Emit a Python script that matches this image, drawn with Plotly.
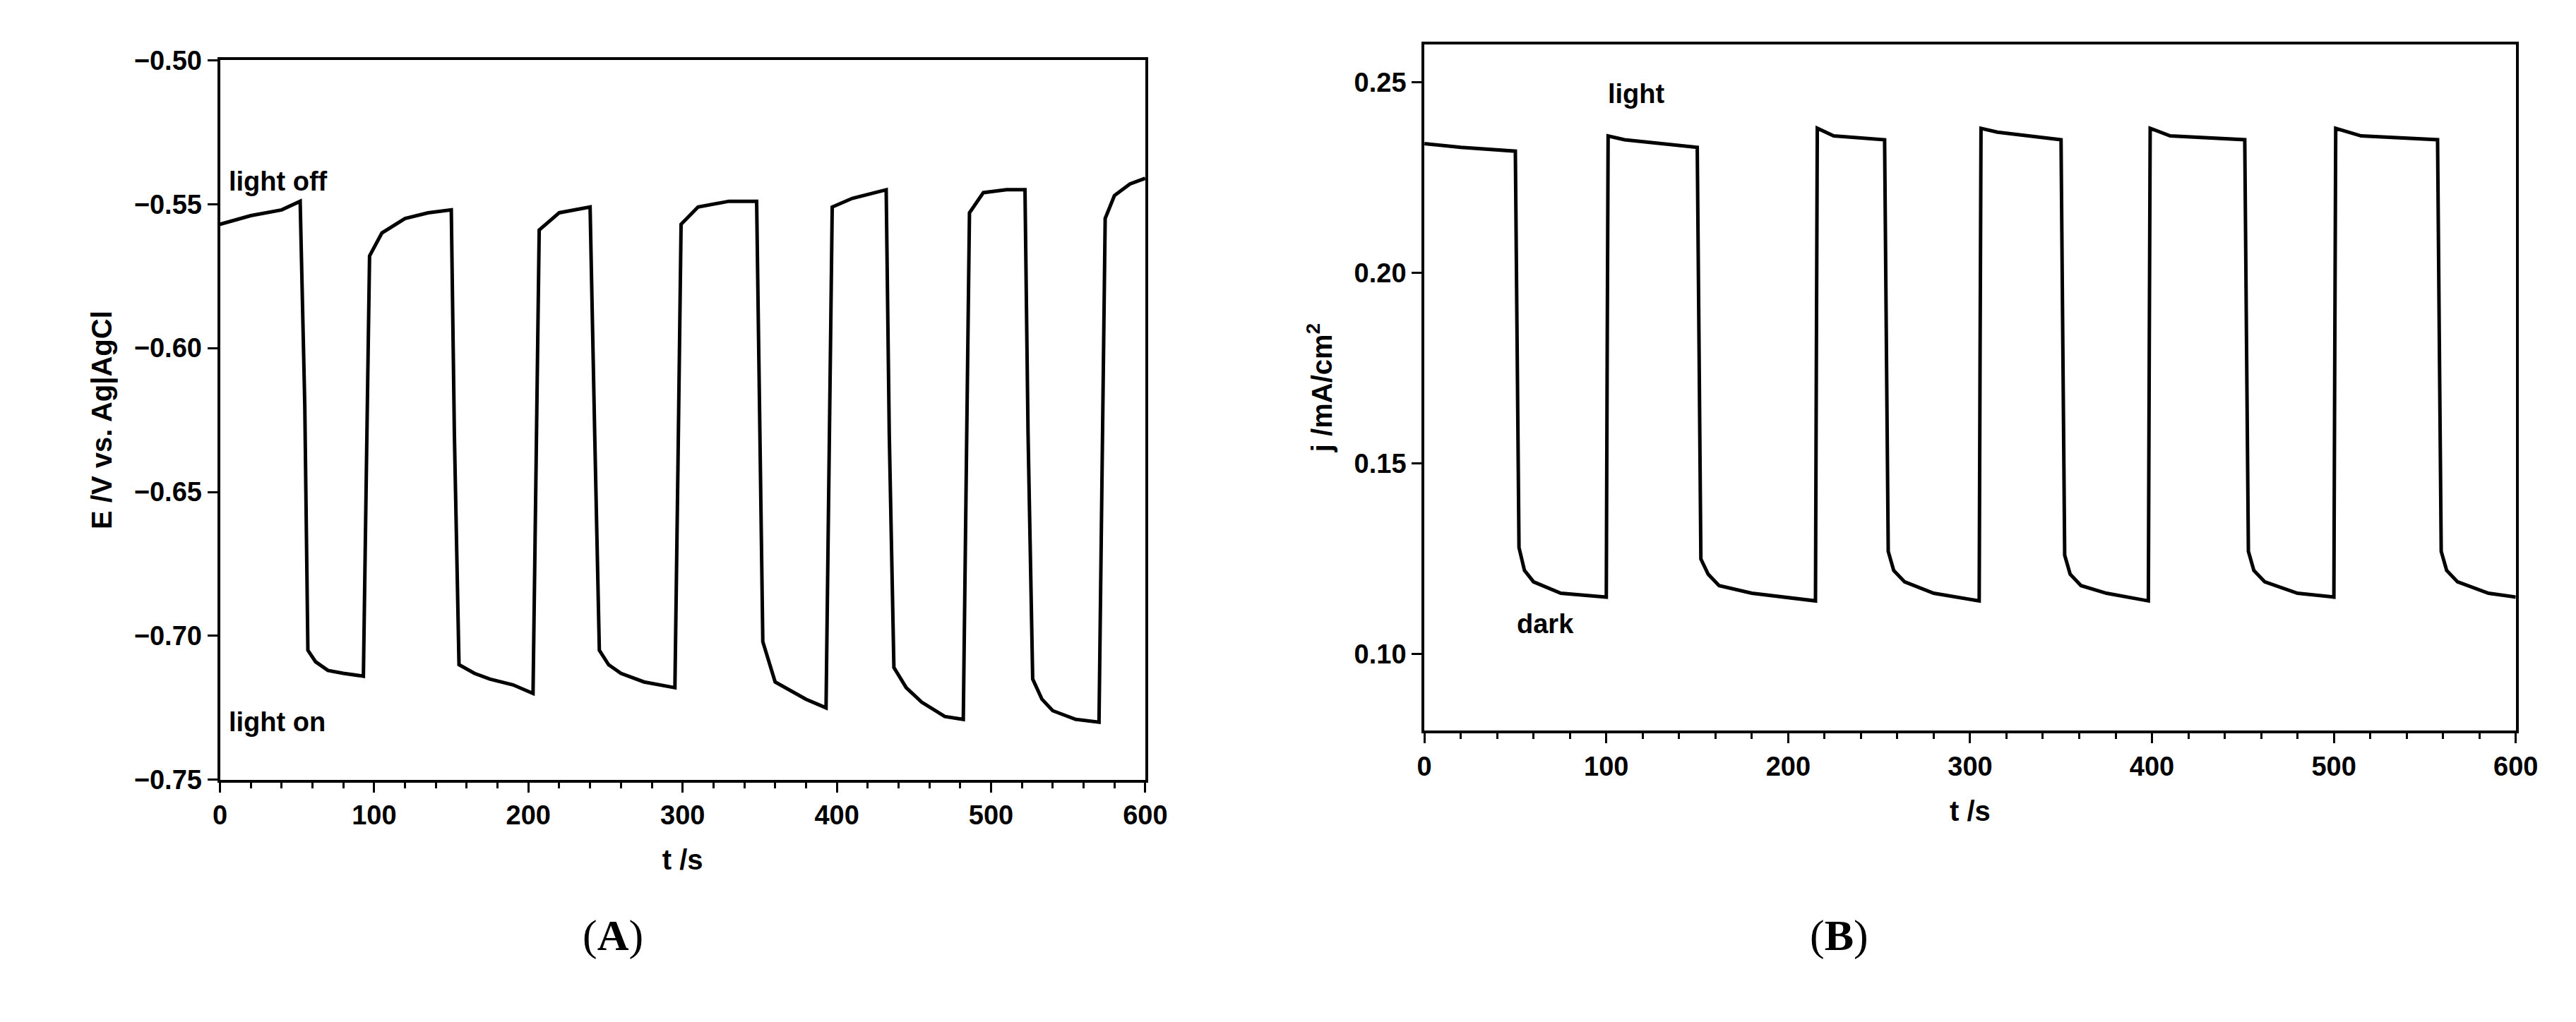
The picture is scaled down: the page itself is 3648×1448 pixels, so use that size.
import plotly.graph_objects as go

tA = [0, 20, 40, 52, 55, 57, 62, 70, 80, 93, 95, 97, 105, 120, 135, 150, 152, 155, 165, 175, 190, 203, 205, 207, 220, 240, 243, 246, 252, 260, 275, 295, 297, 299, 310, 330, 348, 350, 352, 360, 370, 380, 393, 395, 397, 410, 432, 434, 437, 445, 455, 470, 482, 484, 486, 495, 510, 522, 524, 527, 533, 540, 555, 570, 572, 574, 580, 590, 600]
EA = [-0.557, -0.554, -0.552, -0.549, -0.62, -0.705, -0.709, -0.712, -0.713, -0.714, -0.64, -0.568, -0.560, -0.555, -0.553, -0.552, -0.63, -0.710, -0.713, -0.715, -0.717, -0.720, -0.64, -0.559, -0.553, -0.551, -0.63, -0.705, -0.710, -0.713, -0.716, -0.718, -0.64, -0.557, -0.551, -0.549, -0.549, -0.63, -0.702, -0.716, -0.719, -0.722, -0.725, -0.64, -0.551, -0.548, -0.545, -0.63, -0.711, -0.718, -0.723, -0.728, -0.729, -0.64, -0.553, -0.546, -0.545, -0.545, -0.63, -0.715, -0.722, -0.726, -0.729, -0.730, -0.64, -0.555, -0.547, -0.543, -0.541]

tB = [0, 20, 50, 51, 52, 55, 60, 75, 100, 100.5, 101, 110, 130, 150, 151, 152, 156, 162, 180, 215, 215.5, 216, 225, 253, 254, 255, 258, 264, 280, 305, 305.5, 306, 315, 350, 351, 352, 355, 361, 375, 398, 398.5, 399, 410, 451, 452, 453, 456, 462, 480, 500, 500.5, 501, 515, 557, 558, 559, 562, 568, 585, 600]
jB = [0.234, 0.233, 0.232, 0.18, 0.128, 0.122, 0.119, 0.116, 0.115, 0.18, 0.236, 0.235, 0.234, 0.233, 0.18, 0.125, 0.121, 0.118, 0.116, 0.114, 0.18, 0.238, 0.236, 0.235, 0.18, 0.127, 0.122, 0.119, 0.116, 0.114, 0.18, 0.238, 0.237, 0.235, 0.18, 0.126, 0.121, 0.118, 0.116, 0.114, 0.18, 0.238, 0.236, 0.235, 0.18, 0.127, 0.122, 0.119, 0.116, 0.115, 0.18, 0.238, 0.236, 0.235, 0.18, 0.127, 0.122, 0.119, 0.116, 0.115]

W, H = 3648, 1448
fig = go.Figure()
fig.add_trace(go.Scatter(x=tA, y=EA, mode="lines", line=dict(color="black", width=5), xaxis="x", yaxis="y", showlegend=False))
fig.add_trace(go.Scatter(x=tB, y=jB, mode="lines", line=dict(color="black", width=5), xaxis="x2", yaxis="y2", showlegend=False))

tickfont = dict(family="Liberation Sans, Arial", size=38, color="black")
common = dict(showline=True, linecolor="black", linewidth=4, mirror=True, ticks="outside",
              ticklen=14, tickwidth=3, tickcolor="black", showgrid=False, zeroline=False,
              tickprefix="<b>", ticksuffix="</b>",
              tickfont=tickfont, minor=dict(ticks="outside", ticklen=8, tickwidth=3, tickcolor="black"))
fig.update_layout(
    width=W, height=H, paper_bgcolor="white", plot_bgcolor="white",
    margin=dict(l=0, r=0, t=0, b=0),
    font=dict(family="Liberation Sans, Arial", color="black"),
    xaxis=dict(domain=[296/W, 1622/W], anchor="y", range=[0, 600], dtick=100,
               title=dict(text="<b>t /s</b>", font=dict(size=40), standoff=30), **common),
    yaxis=dict(domain=[1-1108/H, 1-58/H], anchor="x", range=[-0.75, -0.50], dtick=0.05, tickformat=".2f",
               title=dict(text="<b>E /V vs. Ag|AgCl</b>", font=dict(size=40), standoff=20), **common),
    xaxis2=dict(domain=[2022/W, 3586/W], anchor="y2", range=[0, 600], dtick=100,
                title=dict(text="<b>t /s</b>", font=dict(size=40), standoff=30), **common),
    yaxis2=dict(domain=[1-1036/H, 1-35/H], anchor="x2", range=[0.08, 0.26], dtick=0.05, tickformat=".2f",
                title=dict(text="<b>j /mA/cm<sup>2</sup></b>", font=dict(size=40), standoff=20), **common),
)
fig.update_yaxes(minor=dict(nticks=2))
ann = [
    dict(x=5, y=-0.542, xref="x", yref="y", text="<b>light off</b>"),
    dict(x=5, y=-0.730, xref="x", yref="y", text="<b>light on</b>"),
    dict(x=100, y=0.247, xref="x2", yref="y2", text="<b>light</b>"),
    dict(x=50, y=0.108, xref="x2", yref="y2", text="<b>dark</b>"),
]
for a in ann:
    fig.add_annotation(showarrow=False, xanchor="left", font=dict(size=38, color="black"), **a)
fig.add_annotation(x=814/W, y=1-1373/H, xref="paper", yref="paper", showarrow=False,
                   text="(<b>A</b>)", font=dict(family="Liberation Serif, Times New Roman", size=62, color="black"))
fig.add_annotation(x=2660/W, y=1-1373/H, xref="paper", yref="paper", showarrow=False,
                   text="(<b>B</b>)", font=dict(family="Liberation Serif, Times New Roman", size=62, color="black"))
fig.write_html("out.html")
